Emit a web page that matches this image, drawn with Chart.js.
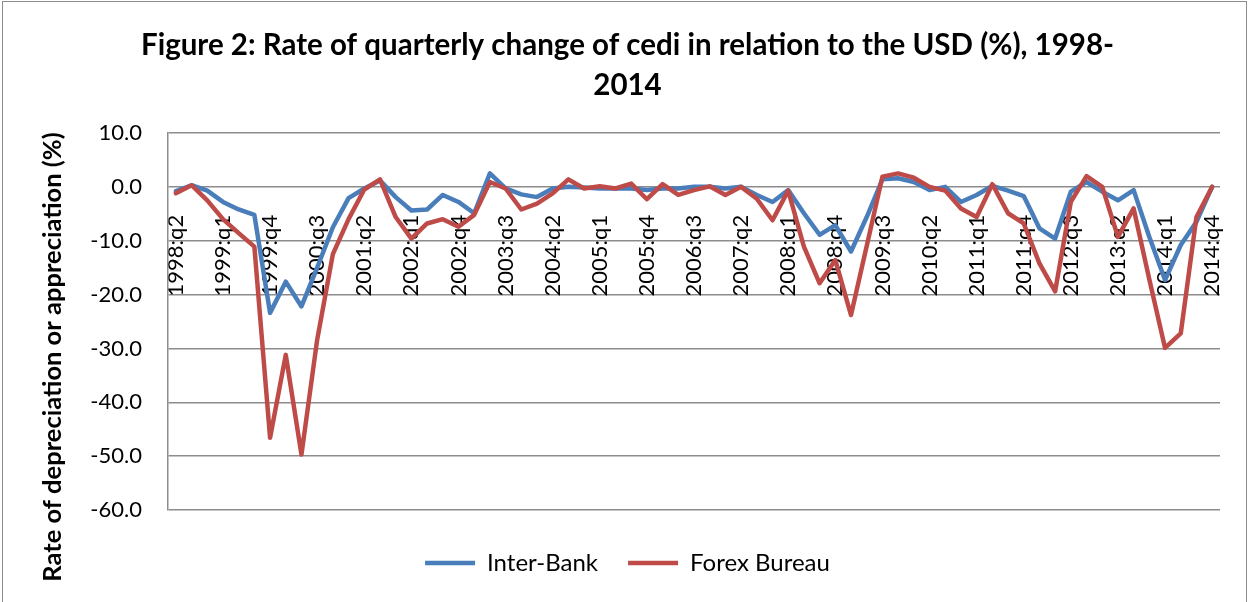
<!DOCTYPE html>
<html>
<head>
<meta charset="utf-8">
<script src="https://cdn.jsdelivr.net/npm/chart.js@4.4.1/dist/chart.umd.min.js"></script>
<style>
  body { margin: 0; background: #fff; overflow: hidden; }
  #frame { position: absolute; left: 2px; top: 1px; width: 1243px; height: 660px; border: 1.5px solid #8c8c8c; }
  #myChart { position: absolute; left: 0; top: 0; }
</style>
</head>
<body>
<div id="frame"></div>
<canvas id="myChart" width="1250" height="602"></canvas>
<script>
// quarters 1998:q2 .. 2014:q4
const quarters = [
  '1998:q2','1998:q3','1998:q4',
  '1999:q1','1999:q2','1999:q3','1999:q4',
  '2000:q1','2000:q2','2000:q3','2000:q4',
  '2001:q1','2001:q2','2001:q3','2001:q4',
  '2002:q1','2002:q2','2002:q3','2002:q4',
  '2003:q1','2003:q2','2003:q3','2003:q4',
  '2004:q1','2004:q2','2004:q3','2004:q4',
  '2005:q1','2005:q2','2005:q3','2005:q4',
  '2006:q1','2006:q2','2006:q3','2006:q4',
  '2007:q1','2007:q2','2007:q3','2007:q4',
  '2008:q1','2008:q2','2008:q3','2008:q4',
  '2009:q1','2009:q2','2009:q3','2009:q4',
  '2010:q1','2010:q2','2010:q3','2010:q4',
  '2011:q1','2011:q2','2011:q3','2011:q4',
  '2012:q1','2012:q2','2012:q3','2012:q4',
  '2013:q1','2013:q2','2013:q3','2013:q4',
  '2014:q1','2014:q2','2014:q3','2014:q4'
];

const interBank = [
  -0.8, 0.3, -0.7,
  -2.8, -4.2, -5.2, -23.4,
  -17.6, -22.2, -15.0, -7.5,
  -2.1, -0.3, 1.2, -1.9,
  -4.4, -4.2, -1.5, -2.8,
  -4.9, 2.5, -0.3, -1.4,
  -1.9, -0.3, 0.0, -0.1,
  -0.3, -0.3, -0.3, -0.6,
  -0.3, -0.3, 0.0, 0.0,
  -0.3, 0.0, -1.5, -2.8,
  -0.6, -4.9, -8.9, -7.1,
  -12.0, -5.6, 1.4, 1.6,
  0.9, -0.6, 0.0, -2.8,
  -1.5, 0.2, -0.7, -1.7,
  -7.7, -9.6, -0.9, 0.9,
  -0.9, -2.5, -0.6, -9.3,
  -17.3, -10.8, -6.5, 0.0
];

const forexBureau = [
  -1.2, 0.3, -2.5,
  -6.0, -8.6, -11.1, -46.6,
  -31.2, -49.7, -28.4, -12.5,
  -6.0, -0.5, 1.4, -5.6,
  -9.6, -6.8, -6.0, -7.4,
  -5.2, 0.9, -0.3, -4.2,
  -3.1, -1.2, 1.4, -0.3,
  0.1, -0.3, 0.6, -2.3,
  0.5, -1.5, -0.6, 0.1,
  -1.5, 0.0, -2.2, -6.2,
  -0.7, -11.1, -17.9, -13.6,
  -23.8, -11.0, 1.9, 2.5,
  1.7, 0.0, -0.7, -4.0,
  -5.6, 0.5, -4.9, -6.8,
  -14.2, -19.4, -2.8, 2.0,
  0.0, -9.3, -4.0, -17.2,
  -29.9, -27.2, -5.6, 0.0
];

const chartTitle = ['Figure 2: Rate of quarterly change of cedi in relation to the USD (%), 1998-', '2014'];
const yAxisTitle = 'Rate of depreciation or appreciation (%)';

const gridGray = '#8c8c8c';
Chart.defaults.font.family = 'Lato';
Chart.defaults.color = '#000';

// y axis title drawn by hand so it sits where the original one is
const yTitlePlugin = {
  id: 'yTitle',
  afterDraw(chart) {
    const ctx = chart.ctx;
    ctx.save();
    ctx.translate(53, 357);
    ctx.rotate(-Math.PI / 2);
    ctx.font = 'bold 25.5px Lato';
    ctx.fillStyle = '#000';
    ctx.textAlign = 'center';
    ctx.textBaseline = 'middle';
    ctx.fillText(yAxisTitle, 0, 0);
    ctx.restore();
  }
};

const ctx = document.getElementById('myChart').getContext('2d');
const myChart = new Chart(ctx, {
  type: 'line',
  data: {
    labels: quarters,
    datasets: [{
      label: 'Inter-Bank',
      data: interBank,
      borderColor: '#4a7ebb',
      backgroundColor: '#4a7ebb',
      borderWidth: 4.5,
      pointRadius: 0,
      tension: 0,
      borderJoinStyle: 'round',
      borderCapStyle: 'round',
      xAxisID: 'x',
      order: 1
    }, {
      label: 'Forex Bureau',
      data: forexBureau,
      borderColor: '#be4b48',
      backgroundColor: '#be4b48',
      borderWidth: 4.5,
      pointRadius: 0,
      tension: 0,
      borderJoinStyle: 'round',
      borderCapStyle: 'round',
      xAxisID: 'x',
      order: 0
    }]
  },
  options: {
    responsive: false,
    animation: false,
    devicePixelRatio: 1,
    layout: { padding: { left: 35, right: 30, top: 0, bottom: 17 } },
    plugins: {
      title: {
        display: true,
        text: chartTitle,
        font: { size: 29.5, weight: 'bold', lineHeight: 1.356 },
        color: '#000',
        padding: { top: 25, bottom: 28 }
      },
      legend: {
        position: 'bottom',
        labels: {
          usePointStyle: true,
          pointStyle: 'line',
          pointStyleWidth: 50,
          padding: 30,
          font: { size: 24 },
          sort: (a, b) => a.datasetIndex - b.datasetIndex
        }
      },
      tooltip: { enabled: false }
    },
    scales: {
      x: {
        type: 'category',
        position: { y: 0 },
        offset: true,
        // no visible tick marks, the tick length only pushes labels off the axis
        grid: { display: false, drawTicks: true, tickLength: 28 },
        border: { display: false },
        ticks: {
          autoSkip: false,
          minRotation: 90,
          maxRotation: 90,
          padding: 0,
          font: { size: 22 },
          callback: function(val, idx) {
            return idx % 3 === 0 ? this.getLabelForValue(val) : '';
          }
        }
      },
      gap: {
        type: 'category',
        position: 'bottom',
        grid: { display: false },
        border: { display: false },
        ticks: { display: false },
        afterFit: s => { s.height = 11; }
      },
      y: {
        min: -60,
        max: 10,
        grid: { color: gridGray, lineWidth: 1.5, drawTicks: false },
        border: { display: true, color: gridGray, width: 1.5 },
        ticks: {
          stepSize: 10,
          padding: 26,
          font: { size: 22 },
          callback: v => v.toFixed(1)
        },
        afterFit: s => { s.width = 133; }
      }
    }
  },
  plugins: [yTitlePlugin]
});
</script>
</body>
</html>
